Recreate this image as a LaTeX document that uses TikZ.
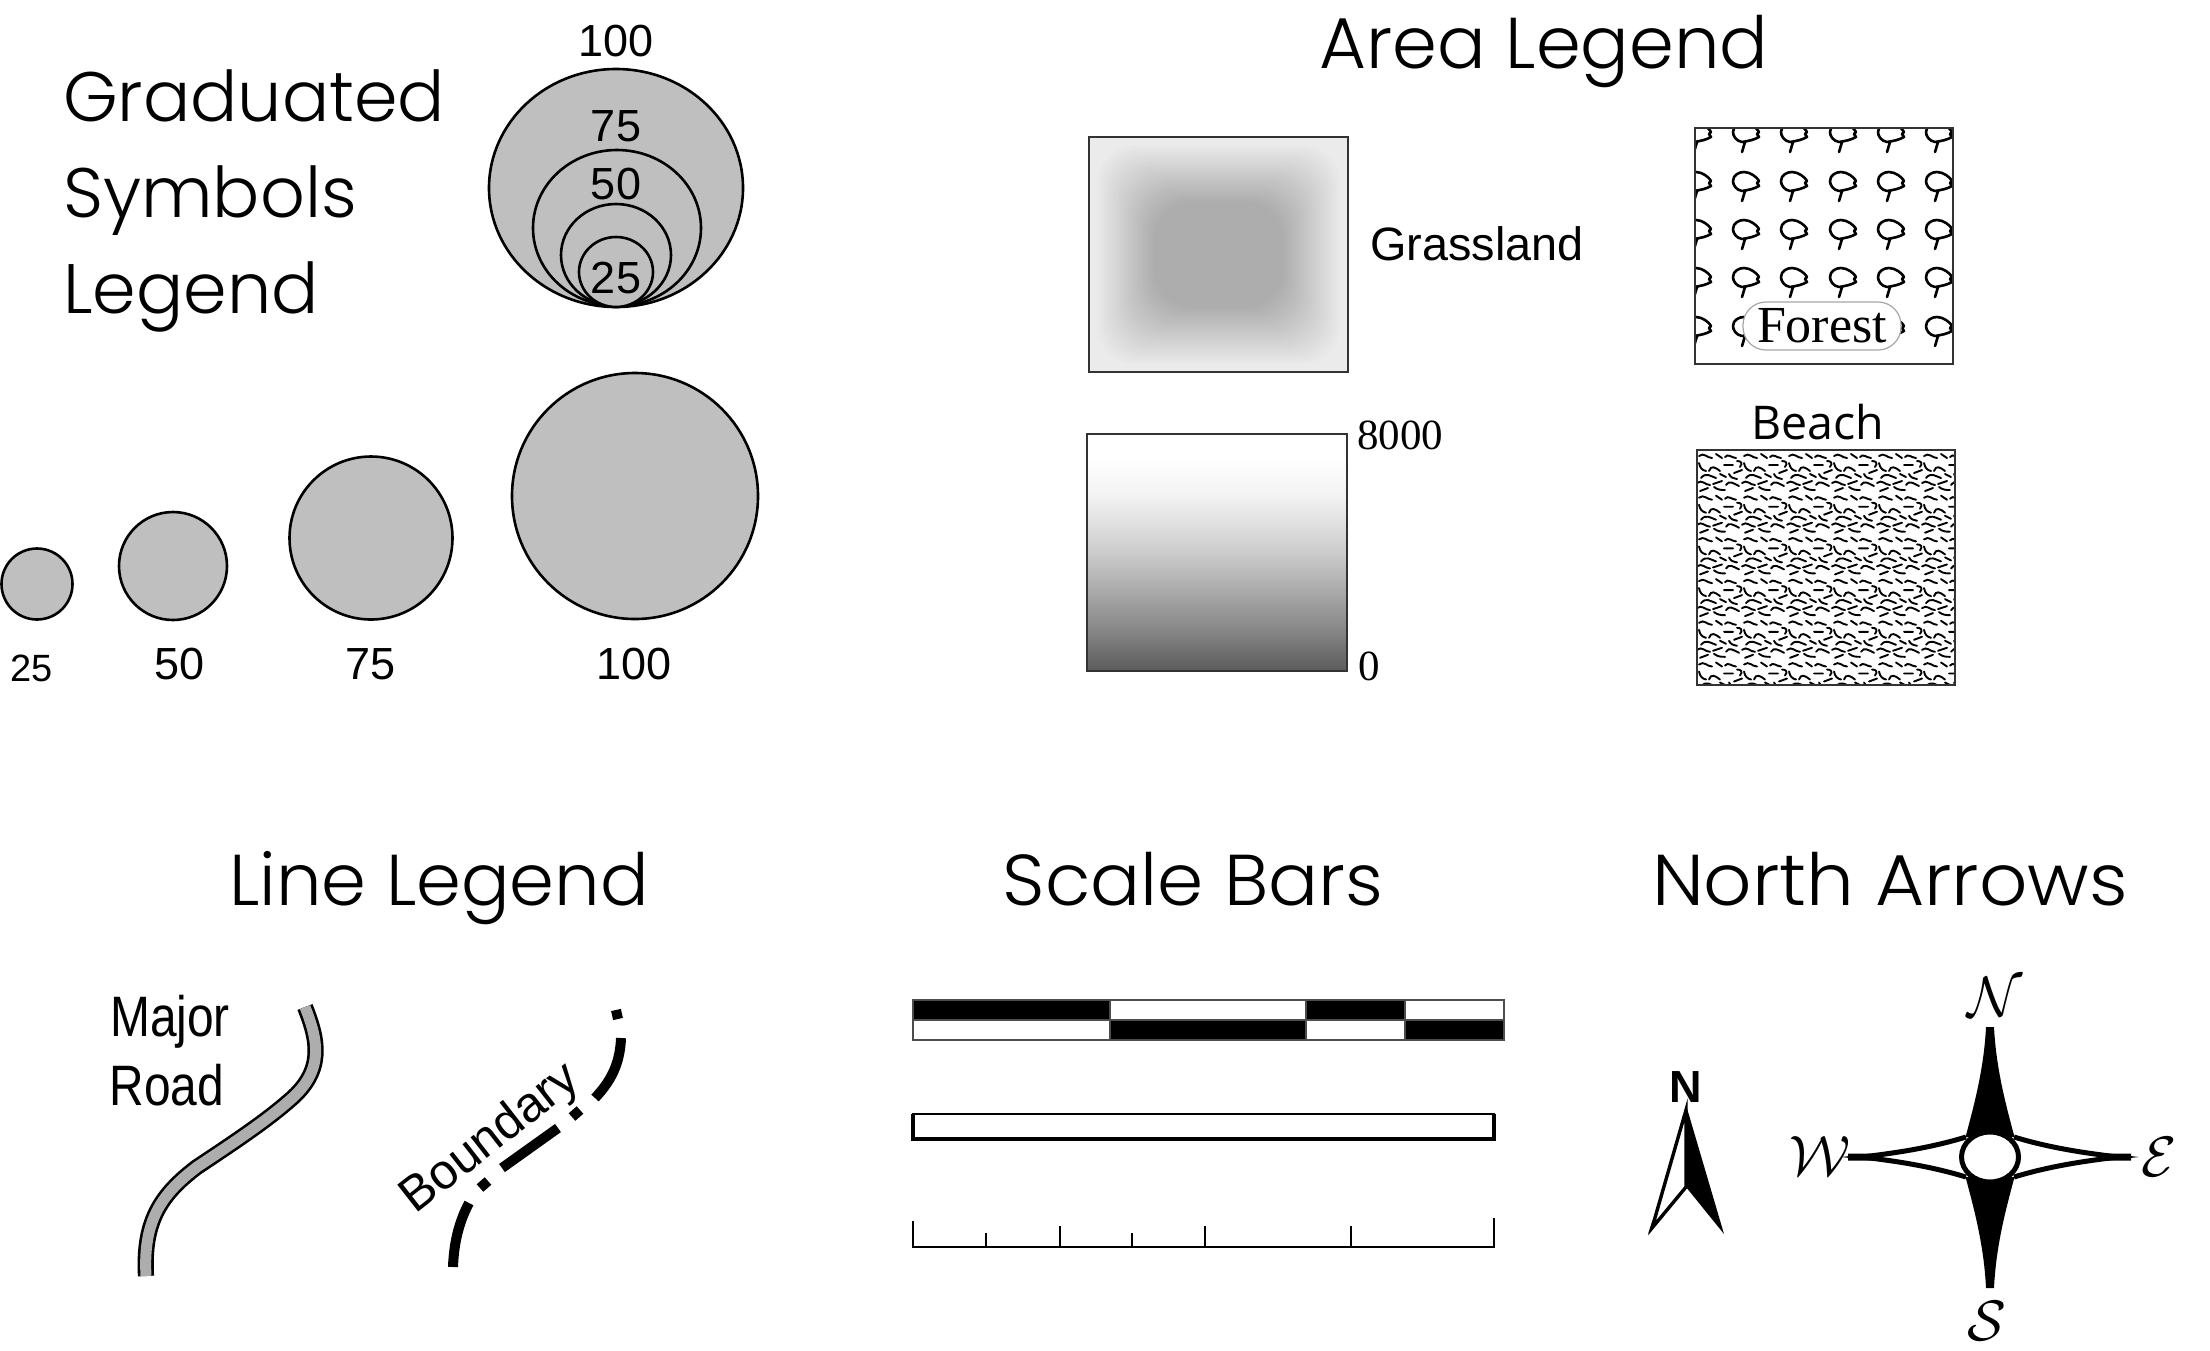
\documentclass[tikz,border=0pt]{standalone}
\usepackage{fontspec}
\setmainfont{Liberation Sans}
\newfontfamily\titlefont[UprightFont={* Light}]{Poppins}
\newfontfamily\bookfont{Liberation Serif}
\newfontfamily\beachfont{Open Sans}
\newcommand{\fsz}[1]{\fontsize{#1}{#1}\selectfont}

\pgfdeclareverticalshading{elevramp}{100bp}{color(0bp)=(black!64); color(25bp)=(black!64); color(35bp)=(black!45); color(50bp)=(black!20); color(62bp)=(black!5); color(70bp)=(white); color(100bp)=(white)}

\tikzstyle{every node}=[inner sep=0pt]
\tikzstyle{heading}=[anchor=base,font={\titlefont\fsz{72}}]
\tikzstyle{sideheading}=[anchor=base west,font={\titlefont\fsz{70}}]
\tikzstyle{symbol}=[draw=black,fill=black!25,line width=2.6pt]
\tikzstyle{count}=[font={\fsz{45}}]
\tikzstyle{smallcount}=[font={\fsz{38}}]
\tikzstyle{areabox}=[draw=black!80,line width=1.8pt]
\tikzstyle{treemark}=[line width=2.6pt,line cap=round,line join=round]
\tikzstyle{sandmark}=[line width=1.9pt,line cap=round]
\tikzstyle{boundary}=[line width=10pt]
\tikzstyle{roadline}=[line width=2.6pt,double=black!32,double distance=11pt]
\tikzstyle{tick}=[line width=2.2pt]
\tikzstyle{point}=[scale=5.7]

\begin{document}
\begin{tikzpicture}[x=1pt,y=-1pt]
    \useasboundingbox (0,0) rectangle (2210,1350);

    \node [sideheading] (gradOne) at (63,121) {Graduated};
    \node [sideheading] (gradTwo) at (63,217) {Symbols};
    \node [sideheading] (gradThree) at (63,313) {Legend};
    \node [heading] (areaTitle) at (1544,68) {Area Legend};
    \node [heading] (lineTitle) at (439,905) {Line Legend};
    \node [heading,xscale=1.03] (scaleTitle) at (1193,905) {Scale Bars};
    \node [heading,xscale=1.05] (northTitle) at (1890,905) {North Arrows};

    \draw [symbol] (616,188) ellipse [x radius=127,y radius=119];
    \draw [symbol] (617,228) ellipse [x radius=84,y radius=78];
    \draw [symbol] (616,255) ellipse [x radius=55,y radius=51];
    \draw [symbol] (616,272) ellipse [x radius=37,y radius=35];
    \node [count] (nestHundred) at (616,41) {100};
    \node [count] (nestSeventy) at (616,126) {75};
    \node [count] (nestFifty) at (616,184) {50};
    \node [count] (nestTwenty) at (616,278) {25};

    \draw [symbol] (37,584) circle (35.5);
    \draw [symbol] (173,566) circle (54);
    \draw [symbol] (371,538) circle (81.5);
    \draw [symbol] (635,496) circle (123);
    \node [smallcount] (rowTwenty) at (32,668) {25};
    \node [count] (rowFifty) at (180,664) {50};
    \node [count] (rowSeventy) at (371,664) {75};
    \node [count] (rowHundred) at (634,664) {100};

    \fill [black!8] (1089,137) rectangle (1348,372);
    \foreach \i in {0,...,50} {
        \pgfmathsetmacro{\inset}{7+\i*1.15}
        \pgfmathsetmacro{\level}{8+\i*.48}
        \fill [black!\level,rounded corners=38pt] (1089+\inset,137+\inset) rectangle (1348-\inset,372-\inset);
    }
    \draw [areabox] (1089,137) rectangle (1348,372);
    \node [font={\fsz{46.8}},anchor=west] (grassland) at (1370,244) {Grassland};

    \draw [areabox,shading=elevramp] (1087,434) rectangle (1347,671);
    \node [font={\bookfont\fsz{43}}] (elevTop) at (1400,435) {8000};
    \node [font={\bookfont\fsz{43}}] (elevBottom) at (1369,666) {0};

    \begin{scope}
        \clip (1695,128) rectangle (1953,364);
        \foreach \cx in {1698,1746,1794,1843,1891,1939} {
            \foreach \cy in {133,182,230,278,327} {
                \draw [treemark,shift={(\cx,\cy)}] (-4,9) .. controls (-10,8) and (-13,3) .. (-13,-1) .. controls (-13,-7) and (-7,-10) .. (-2,-10) .. controls (4,-10) and (11,-5) .. (13,-1) -- (11,1) -- (13,4) .. controls (8,7) and (2,8) .. (-4,9) (-1,9) -- (-4,19);
            }
        }
    \end{scope}
    \draw [areabox] (1695,128) rectangle (1953,364);
    \node [draw=black!35,line width=1.2pt,fill=white,rounded corners=23pt,minimum width=158pt,minimum height=48pt,font={\bookfont\fsz{52}}] (forest) at (1822,326) {Forest};

    \node [font={\beachfont\fsz{46.5}}] (beach) at (1818,422) {Beach};
    \begin{scope}
        \clip (1697,450) rectangle (1955,685);
        \foreach \tx in {0,...,5} {
            \foreach \ty in {0,...,5} {
                \draw [sandmark,shift={(1697+45*\tx,450+41.7*\ty)}]
                    (2,6) .. controls (7,2) and (10,8) .. (15,8)
                    (19,4) -- (25,8)
                    (28,7) .. controls (31,3) and (35,8) .. (39,8)
                    (40,11) .. controls (44,11) and (46,13) .. (43,17)
                    (2,13) .. controls (3,18) and (5,20) .. (9,21)
                    (12,21) .. controls (14,15) and (18,17) .. (23,21)
                    (27,15) -- (36,15)
                    (37,23) -- (45,20)
                    (4,28) .. controls (9,22) and (13,26) .. (19,28)
                    (23,24) -- (29,27)
                    (32,24) .. controls (34,28) and (36,28) .. (40,29)
                    (0,33) .. controls (5,29) and (8,35) .. (13,35)
                    (16,34) -- (25,31)
                    (29,35) .. controls (32,30) and (36,33) .. (42,36)
                    (3,41) -- (11,38)
                    (17,37) .. controls (21,40) and (24,40) .. (28,40);
            }
        }
    \end{scope}
    \draw [areabox] (1697,450) rectangle (1955,685);

    \node [font={\fsz{57}},xscale=.84] (major) at (170,1022) {Major};
    \node [font={\fsz{57}},xscale=.84] (road) at (167,1085) {Road};
    \draw [roadline] (305,1007) .. controls (318,1040) and (325,1070) .. (290,1100) .. controls (265,1122) and (230,1145) .. (197,1167) .. controls (160,1195) and (143,1222) .. (146,1276);

    \node [font={\fsz{49.5}},rotate=38] (boundaryLabel) at (491,1139) {Boundary};
    \draw [boundary] (453,1267) .. controls (454,1240) and (460,1220) .. (469,1203);
    \draw [boundary] (480,1188) -- (488,1181);
    \draw [boundary] (502,1168) -- (558,1128);
    \draw [boundary] (572,1117) -- (580,1110);
    \draw [boundary] (595,1098) .. controls (610,1082) and (620,1065) .. (621,1038);
    \draw [boundary] (616,1010) -- (618,1019);

    \draw [fill=black,draw=black!70,line width=1.2pt] (913,1000) rectangle (1110,1020) (1110,1020) rectangle (1306,1040) (1306,1000) rectangle (1405,1020) (1405,1020) rectangle (1504,1040);
    \draw [draw=black!70,line width=1.2pt] (913,1000) rectangle (1504,1040);
    \draw [fill=white,line width=2.2pt] (913,1114) rectangle (1494,1139);
    \draw [line width=3.6pt] (913,1114) -- (913,1139) -- (1494,1139) -- (1494,1114);
    \draw [tick] (913,1221) -- (913,1247) -- (1494,1247) -- (1494,1218);
    \foreach \tx/\ty in {986/1233,1060/1226,1132/1233,1205/1226,1351/1226} {
        \draw [tick] (\tx,\ty) -- (\tx,1247);
    }

    \node [font={\bfseries\fsz{45}}] (plainNorth) at (1686,1087) {N};
    \draw [fill=white,line width=3.4pt,line join=miter] (1686,1110) -- (1652,1228) -- (1686,1187) -- cycle;
    \fill (1686,1105) -- (1724,1234) -- (1686,1187) -- cycle;
    \fill (1648,1234) -- (1652,1222) -- (1660,1218) -- cycle;

    \begin{scope}[shift={(1990,1157)}]
        \draw [fill=white,line width=5pt] (24,-20) .. controls (60,-9) and (95,-4) .. (128,0) .. controls (95,4) and (60,9) .. (24,20) (-24,-20) .. controls (-60,-9) and (-95,-4) .. (-128,0) .. controls (-95,4) and (-60,9) .. (-24,20);
        \fill (112,-3.5) rectangle (141,3.5) (-112,-3.5) rectangle (-142,3.5);
        \fill (-4,-130) -- (4,-130) .. controls (6,-90) and (15,-55) .. (24.5,-20) -- (-24.5,-20) .. controls (-15,-55) and (-6,-90) .. (-4,-130) -- cycle;
        \fill (-4,131) -- (4,131) .. controls (6,90) and (15,55) .. (24.5,20) -- (-24.5,20) .. controls (-15,55) and (-6,90) .. (-4,131) -- cycle;
        \draw [fill=white,line width=5pt] (0,0) ellipse [x radius=28.5,y radius=25];
    \end{scope}
    \node [point] (compassN) at (1995,997) {$\mathcal{N}$};
    \node [point] (compassS) at (1987,1321) {$\mathcal{S}$};
    \node [point] (compassW) at (1820,1156) {$\mathcal{W}$};
    \node [point] (compassE) at (2159,1157) {$\mathcal{E}$};
\end{tikzpicture}
\end{document}
